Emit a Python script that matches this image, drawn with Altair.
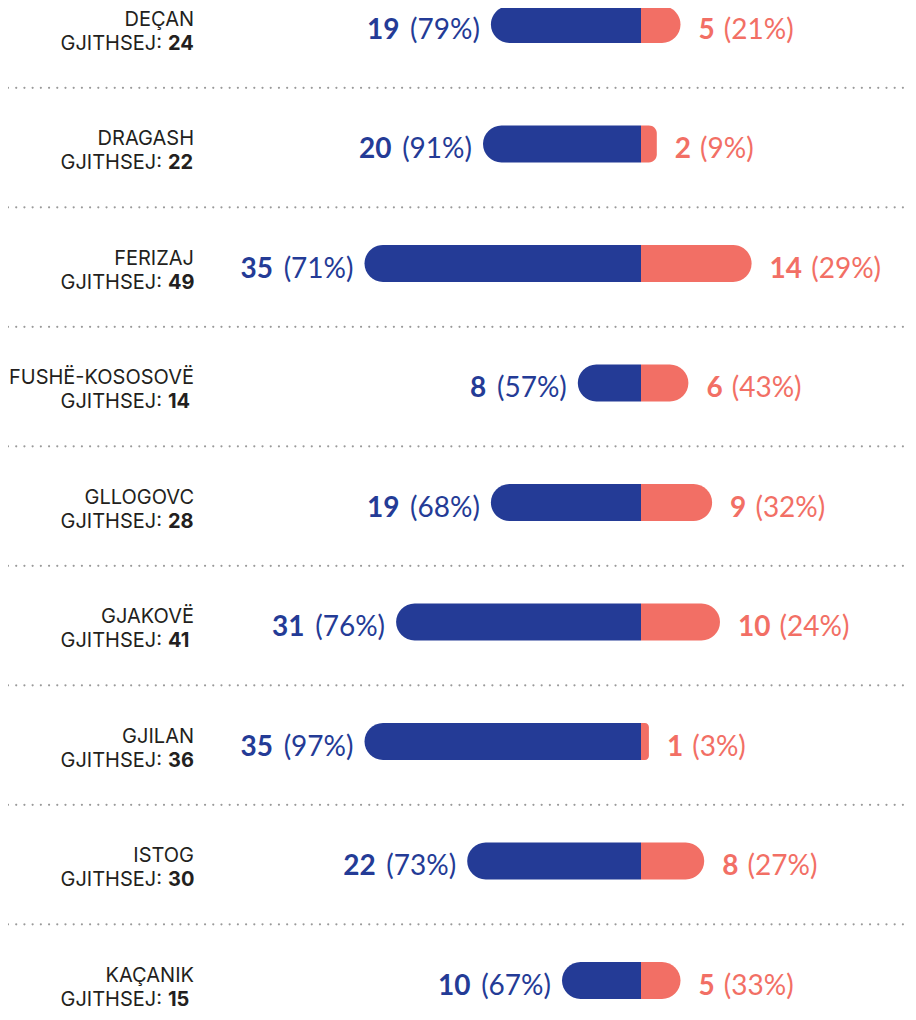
import altair as alt
import pandas as pd

# ---- data ----
names = ["DEÇAN", "DRAGASH", "FERIZAJ", "FUSHË-KOSOSOVË", "GLLOGOVC",
         "GJAKOVË", "GJILAN", "ISTOG", "KAÇANIK"]
totals = [24, 22, 49, 14, 28, 41, 36, 30, 15]
blue_vals = [19, 20, 35, 8, 19, 31, 35, 22, 10]
blue_pcts = [79, 91, 71, 57, 68, 76, 97, 73, 67]
red_vals = [5, 2, 14, 6, 9, 10, 1, 8, 5]
red_pcts = [21, 9, 29, 43, 32, 24, 3, 27, 33]

BLUE = "#243B96"
RED = "#F26F65"
INK = "#231F20"
VFONT = "Lato"
NFONT = "Inter"

# ---- layout constants ----
W, H = 900, 1004
K = 7.9          # pixels per unit
CX = 633         # pixel position of the zero line
PITCH = 119.5    # pixels per row
Y0 = 16.5        # pixel position of first row centre
BAR_H = 37
VS = 28          # value font size
NS = 20          # name font size
PW = 71.5        # approx width of "(79%)"
DW = 16.3        # approx width of a bold digit
SP = 9

xdom = [-CX / K, (W - CX) / K]
ydom = [-Y0 / PITCH, (H - Y0) / PITCH]

df = pd.DataFrame({
    "row": list(range(len(names))),
    "name": names,
    "total": totals,
    "blue": blue_vals,
    "bpct": blue_pcts,
    "red": red_vals,
    "rpct": red_pcts,
})
sep = pd.DataFrame({"sy": [i + 0.53 for i in range(len(names) - 1)]})

xs = alt.Scale(domain=xdom, nice=False, zero=False, padding=0)
ys = alt.Scale(domain=ydom, nice=False, zero=False, reverse=True, padding=0)


def X(f):
    return alt.X(f, type="quantitative", scale=xs, axis=None)


def Y(f):
    return alt.Y(f, type="quantitative", scale=ys, axis=None)


base = alt.Chart(df).transform_calculate(
    bstart="-datum.blue",
    zero="0",
    bpct_t="'(' + datum.bpct + '%)'",
    rpct_t="'(' + datum.rpct + '%)'",
    rpct_x=f"datum.red + (18 + length(toString(datum.red)) * {DW} + {SP}) / {K}",
    tot_t="'GJITHSEJ:'",
)

separators = alt.Chart(sep).mark_rule(
    color="#9a9a9a", strokeWidth=2.2, strokeDash=[0.01, 8.2], strokeCap="round"
).encode(x=alt.value(0), x2=alt.value(W), y=Y("sy"))

blue_bar = base.mark_bar(
    height=BAR_H, color=BLUE, cornerRadiusTopLeft=18.5, cornerRadiusBottomLeft=18.5
).encode(x=X("bstart"), x2="zero:Q", y=Y("row"))

red_bar = base.mark_bar(
    height=BAR_H, color=RED, cornerRadiusTopRight=18.5, cornerRadiusBottomRight=18.5
).encode(x=X("zero"), x2="red:Q", y=Y("row"))

blue_pct = base.mark_text(
    align="right", baseline="alphabetic", dx=-11, dy=14, font=VFONT, fontSize=VS,
    color=BLUE
).encode(x=X("bstart"), y=Y("row"), text="bpct_t:N")

blue_num = base.mark_text(
    align="right", baseline="alphabetic", dx=-11 - PW - SP, dy=14, font=VFONT,
    fontSize=VS, fontWeight="bold", color=BLUE
).encode(x=X("bstart"), y=Y("row"), text="blue:N")

red_num = base.mark_text(
    align="left", baseline="alphabetic", dx=18, dy=14, font=VFONT, fontSize=VS,
    fontWeight="bold", color=RED
).encode(x=X("red"), y=Y("row"), text="red:N")

red_pct = base.mark_text(
    align="left", baseline="alphabetic", dy=14, font=VFONT, fontSize=VS, color=RED
).encode(x=X("rpct_x"), y=Y("row"), text="rpct_t:N")

name_t = base.mark_text(
    align="right", baseline="alphabetic", dy=1, font=NFONT, fontSize=NS, color=INK
).encode(x=alt.value(186), y=Y("row"), text="name:N")

tot_lbl = base.mark_text(
    align="right", baseline="alphabetic", dy=25, font=NFONT, fontSize=NS, color=INK
).encode(x=alt.value(154), y=Y("row"), text="tot_t:N")

tot_num = base.mark_text(
    align="left", baseline="alphabetic", dy=25, font=NFONT, fontSize=NS,
    fontWeight="bold", color=INK
).encode(x=alt.value(160), y=Y("row"), text="total:N")

chart = alt.layer(
    separators, blue_bar, red_bar, blue_pct, blue_num, red_num, red_pct,
    name_t, tot_lbl, tot_num
).properties(
    width=W, height=H, padding=0, background="white",
    autosize=alt.AutoSizeParams(type="none")
).configure_view(stroke=None)

chart.save("out.html", embed_options={"renderer": "svg", "actions": False})
